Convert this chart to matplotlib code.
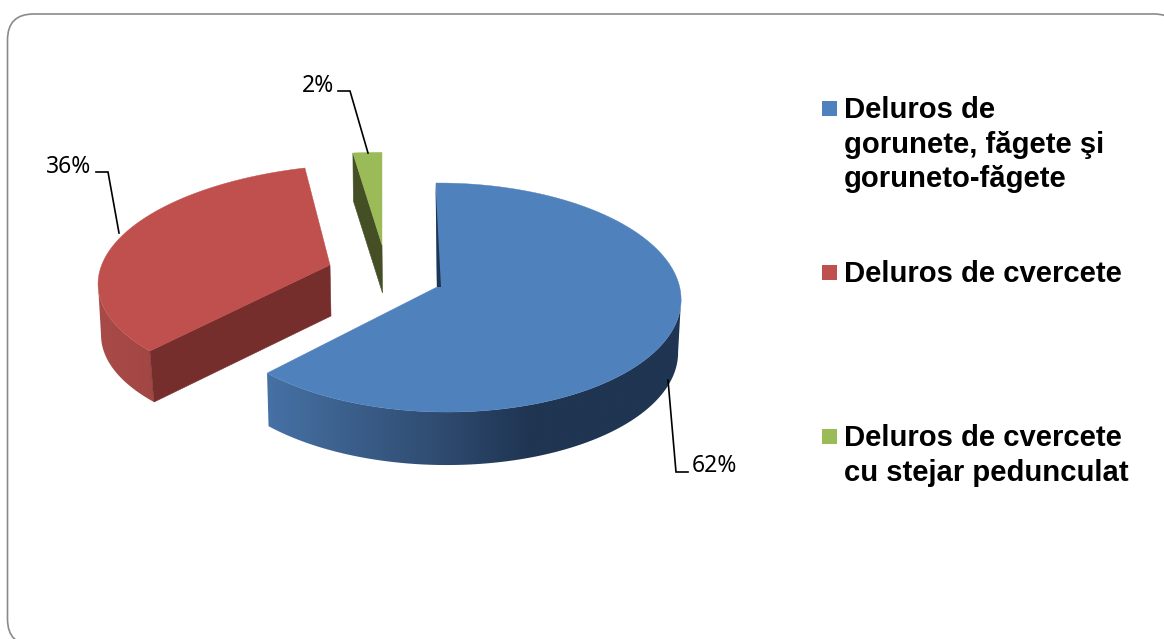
import numpy as np
import matplotlib
matplotlib.use("Agg")
import matplotlib.pyplot as plt
from matplotlib.patches import FancyBboxPatch, Polygon, Rectangle
from matplotlib.colors import LinearSegmentedColormap

# ---- data ----
categories = [
    "Deluros de\ngorunete, făgete şi\ngoruneto-făgete",
    "Deluros de cvercete",
    "Deluros de cvercete\ncu stejar pedunculat",
]
values = [62, 36, 2]
colors = ["#4F81BD", "#C0504D", "#9BBB59"]
side_colors = ["#1F3552", "#762E2D", "#454F25"]

# ---- layout: per-slice projection of the unit disc to pixels ----
PROJ = [
    dict(apex=(437, 287), a=237.0, b=-1.1, c=-1.3, d=113.5, g=-0.0244, h=0.0917,
         wall_dx=([267, 680], [1.5, -3.0]), wall_dy=53),
    dict(apex=(330, 265), a=256.6, b=3.7, c=5.6, d=111.7, g=-0.1157, h=0.1214,
         wall_dx=([98, 150, 330], [3.0, 4.0, 1.0]), wall_dy=51),
    dict(apex=(382, 245), a=253.0, b=0.0, c=0.0, d=101.0, g=0.0, h=0.09,
         wall_dx=([353, 382], [0.5, 0.5]), wall_dy=48),
]
WALL_RAMP = [
    [(267, "#4671A5"), (350, "#3B5F8B"), (440, "#2F4B70"), (530, "#1F3552"), (690, "#1F3552")],
    [(96, "#A84B48"), (160, "#A24644")],
    None,
]
LEADERS = [
    [(668, 380), (676, 472), (688, 472)],
    [(96, 172), (108, 172), (119, 233)],
    [(338, 91), (350, 91), (368, 153)],
]
LABEL_POS = [(692, 472.5), (91, 173), (334, 92)]
LABEL_HA = ["left", "right", "right"]
LEGEND_TOPS = [101, 265, 429]


def project(p, t):
    t = np.radians(np.asarray(t, float))
    u, v = np.sin(t), np.cos(t)
    den = 1 + p["g"] * u + p["h"] * v
    x = p["apex"][0] + (p["a"] * u + p["b"] * v) / den
    y = p["apex"][1] - (p["c"] * u + p["d"] * v) / den
    return x, y


def shift(p, x, y):
    return x + np.interp(x, *p["wall_dx"]), y + p["wall_dy"]


fig = plt.figure(figsize=(11.64, 6.39), dpi=100, facecolor="white")
ax = fig.add_axes([0, 0, 1, 1])
ax.axis("off")

ax.add_patch(FancyBboxPatch((7.5, 14), 1172.5, 631,
                            boxstyle="round,pad=0,rounding_size=26",
                            fc="white", ec="#8A8A8A", lw=1.2, zorder=0))

angles = np.concatenate([[0], np.cumsum(values) / np.sum(values) * 360])
draw_order = [1, 2, 0]
for i in draw_order:
    p = PROJ[i]
    t0, t1 = angles[i], angles[i + 1]
    ts = np.linspace(t0, t1, max(int(t1 - t0) * 2, 8))
    x, y = project(p, ts)
    xb, yb = shift(p, x, y)
    ax0, ay0 = p["apex"]
    axb, ayb = shift(p, np.array([float(ax0)]), np.array([float(ay0)]))
    axb, ayb = axb[0], ayb[0]
    z = 2 + draw_order.index(i) * 3

    # flat cut walls visible to the viewer
    if i == 1:
        ax.add_patch(Polygon([(ax0, ay0), (x[0], y[0]), (xb[0], yb[0]), (axb, ayb)],
                             closed=True, fc=side_colors[i], ec=side_colors[i], lw=0.4, zorder=z + 1))
    if i == 2:
        ax.add_patch(Polygon([(x[0], y[0]), (xb[0], yb[0]), (axb, ayb), (ax0, ay0)],
                             closed=True, fc=side_colors[i], ec=side_colors[i], lw=0.4, zorder=z))

    # curved outer wall (visible part only) with a horizontal shading ramp
    if WALL_RAMP[i] is not None:
        sel = slice(int(np.argmax(x)), None) if i == 0 else slice(0, int(np.argmin(x)) + 1)
        stops = WALL_RAMP[i]
        lo, hi = stops[0][0], stops[-1][0]
        cmap = LinearSegmentedColormap.from_list(
            f"wall{i}", [((s - lo) / (hi - lo), c) for s, c in stops])
        wall = Polygon(np.column_stack([np.r_[x[sel], xb[sel][::-1]], np.r_[y[sel], yb[sel][::-1]]]),
                       closed=True, fc="none", ec="none", transform=ax.transData)
        ax.add_patch(wall)
        x0, x1 = min(x.min(), lo) - 5, max(x.max(), hi) + 5
        grad = np.linspace(x0, x1, 600)[None, :]
        im = ax.imshow(grad, extent=(x0, x1, y.max() + p["wall_dy"] + 5, y.min() - 5), cmap=cmap,
                       vmin=lo, vmax=hi, aspect="auto", zorder=z, interpolation="bilinear")
        im.set_clip_path(wall)

    # top face
    ax.add_patch(Polygon(np.column_stack([np.r_[ax0, x], np.r_[ay0, y]]), closed=True,
                         fc=colors[i], ec=colors[i], lw=0.3, zorder=z + 2))
    if i == 0:
        # thin sliver of the far cut wall
        ax.add_patch(Polygon([(x[0] - 0.5, y[0]), (ax0, ay0), (ax0 + 4, ay0)], closed=True,
                             fc=side_colors[0], ec="none", zorder=z + 2))

for i, pts in enumerate(LEADERS):
    xs, ys = zip(*pts)
    ax.plot(xs, ys, color="black", lw=1.2, zorder=20, solid_joinstyle="miter")
    ax.text(LABEL_POS[i][0], LABEL_POS[i][1], f"{values[i]}%", ha=LABEL_HA[i], va="baseline",
            family="Noto Sans", fontsize=16.5, color="black", zorder=20)

for i, label in enumerate(categories):
    top = LEGEND_TOPS[i]
    ax.add_patch(Rectangle((822, top), 15, 15, fc=colors[i], ec="none", zorder=5))
    for j, line in enumerate(label.split("\n")):
        ax.text(844, top + 17.5 + j * 34.2, line, ha="left", va="baseline",
                family="Liberation Sans", fontweight="bold", fontsize=21.05, color="black", zorder=5)

ax.set_xlim(0, 1164)
ax.set_ylim(639, 0)
fig.savefig("out.png", dpi=100)
